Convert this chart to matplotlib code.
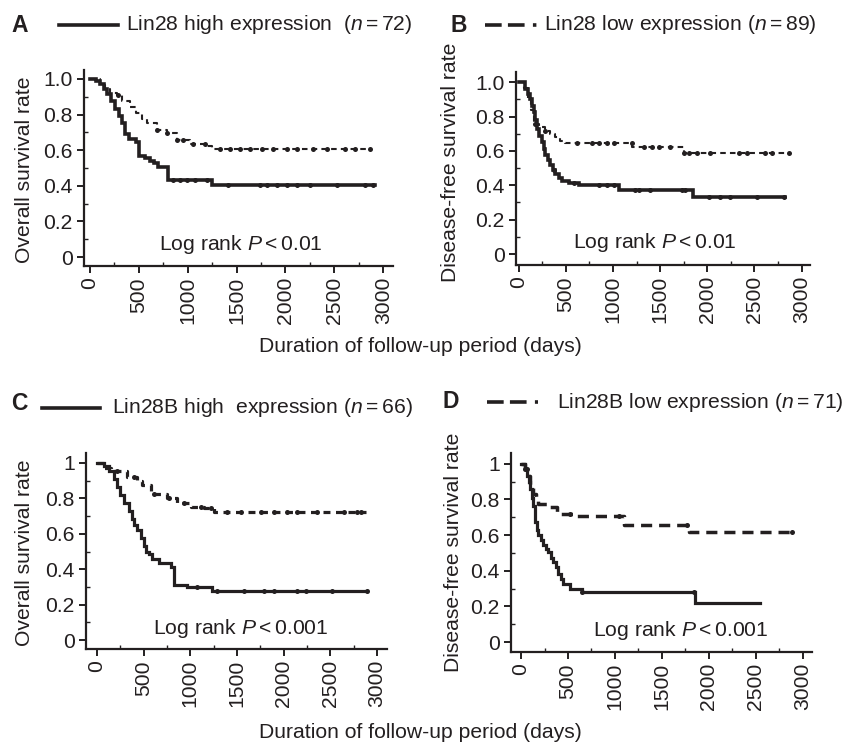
import numpy as np
import matplotlib
matplotlib.use("Agg")
import matplotlib.pyplot as plt
from matplotlib.lines import Line2D
from matplotlib.ticker import MultipleLocator

plt.rcParams['font.family'] = ['Liberation Sans', 'DejaVu Sans']
plt.rcParams['mathtext.fontset'] = 'custom'
plt.rcParams['mathtext.rm'] = 'Liberation Sans'
plt.rcParams['mathtext.it'] = 'Liberation Sans:italic'
plt.rcParams['lines.scale_dashes'] = False
INK = '#231f20'
FS = 15.2

# ---------------- data ----------------
# Panel A: Lin28, overall survival
a_high_t = [0, 60, 100, 140, 180, 220, 260, 300, 330, 360, 400, 470, 505, 560, 614, 660, 700, 802, 1245, 2917]
a_high_s = [1.0, 0.986, 0.972, 0.944, 0.917, 0.875, 0.833, 0.792, 0.75, 0.69, 0.66, 0.646, 0.569, 0.556, 0.542, 0.528, 0.507, 0.43, 0.405, 0.405]
a_high_c = [853, 921, 990, 1075, 1194, 1416, 1740, 1808, 1911, 2013, 2115, 2252, 2525, 2815, 2900]
a_low_t = [0, 100, 150, 205, 273, 330, 410, 470, 530, 580, 683, 785, 887, 1023, 1194, 1245, 2866]
a_low_s = [1.0, 0.966, 0.944, 0.92, 0.91, 0.876, 0.845, 0.81, 0.775, 0.75, 0.713, 0.695, 0.657, 0.635, 0.623, 0.605, 0.605]
a_low_c = [290, 683, 785, 887, 955, 1058, 1177, 1331, 1433, 1536, 1638, 1757, 1877, 2013, 2115, 2286, 2422, 2610, 2712, 2866]

# Panel B: Lin28, disease-free survival
b_high_t = [0, 70, 100, 123, 140, 159, 175, 194, 220, 247, 265, 283, 310, 336, 360, 389, 430, 459, 530, 636, 1060, 1848, 2827]
b_high_s = [1.0, 0.96, 0.93, 0.90, 0.86, 0.826, 0.78, 0.73, 0.69, 0.65, 0.61, 0.574, 0.545, 0.516, 0.49, 0.467, 0.445, 0.428, 0.413, 0.40, 0.374, 0.331, 0.331]
b_high_c = [371, 583, 848, 937, 1007, 1237, 1272, 1396, 1732, 1767, 2015, 2138, 2244, 2527, 2810]
b_low_t = [0, 60, 100, 130, 162, 220, 283, 330, 389, 440, 494, 1203, 1750, 2880]
b_low_s = [1.0, 0.966, 0.91, 0.84, 0.757, 0.74, 0.719, 0.70, 0.68, 0.66, 0.645, 0.625, 0.587, 0.587]
b_low_c = [176, 283, 618, 777, 848, 937, 1007, 1201, 1325, 1414, 1485, 1608, 1750, 1803, 1891, 2032, 2333, 2421, 2616, 2686, 2863]

# Panel C: Lin28B, overall survival
c_high_t = [0, 75, 129, 182, 218, 250, 289, 343, 370, 396, 430, 468, 500, 522, 560, 593, 665, 790, 825, 968, 1236, 2897]
c_high_s = [1.0, 0.985, 0.955, 0.909, 0.864, 0.818, 0.773, 0.727, 0.682, 0.652, 0.621, 0.576, 0.53, 0.50, 0.485, 0.46, 0.433, 0.414, 0.31, 0.298, 0.279, 0.279]
c_high_c = [1075, 1290, 1576, 1790, 1897, 2147, 2236, 2522, 2897]
c_low_t = [0, 75, 146, 325, 430, 486, 575, 754, 861, 1004, 1147, 1254, 2880]
c_low_s = [1.0, 0.97, 0.955, 0.923, 0.90, 0.876, 0.823, 0.804, 0.772, 0.753, 0.744, 0.721, 0.721]
c_low_c = [218, 397, 611, 772, 933, 1112, 1219, 1397, 1540, 1754, 1897, 2040, 2147, 2361, 2647, 2790, 2826]

# Panel D: Lin28B, disease-free survival
d_high_t = [0, 40, 61, 80, 96, 115, 131, 149, 165, 185, 210, 238, 265, 291, 320, 345, 370, 398, 425, 452, 523, 648, 1857, 2543]
d_high_s = [1.0, 0.97, 0.933, 0.90, 0.859, 0.81, 0.765, 0.672, 0.63, 0.598, 0.57, 0.542, 0.52, 0.505, 0.47, 0.449, 0.42, 0.384, 0.355, 0.328, 0.30, 0.281, 0.218, 0.218]
d_high_c = [60, 648, 1839]
d_low_t = [0, 40, 70, 96, 130, 160, 185, 274, 381, 558, 1100, 1786, 2889]
d_low_s = [1.0, 0.97, 0.93, 0.88, 0.83, 0.80, 0.775, 0.756, 0.719, 0.706, 0.659, 0.616, 0.616]
d_low_c = [40, 523, 1039, 1768, 2889]

y_ticks = [0, 0.2, 0.4, 0.6, 0.8, 1.0]
y_labels_ab = ['0', '0.2', '0.4', '0.6', '0.8', '1.0']
y_labels_cd = ['0', '0.2', '0.4', '0.6', '0.8', '1']
x_ticks = [0, 500, 1000, 1500, 2000, 2500, 3000]
x_labels = ['0', '500', '1000', '1500', '2000', '2500', '3000']

# ---------------- figure ----------------
W, H = 847, 744
fig = plt.figure(figsize=(W / 100, H / 100), dpi=100)


def fx(px):
    return px / W


def fy(py):
    return 1 - py / H


def make_axes(l, t, r, b):
    return fig.add_axes([fx(l), fy(b), fx(r - l), (b - t) / H])


def km(ax, t, s, cens, lw, dash=None, ms=3.6):
    t = np.asarray(t, float)
    s = np.asarray(s, float)
    kw = dict(color=INK, lw=lw, solid_joinstyle='miter')
    if dash is not None:
        kw['linestyle'] = (0, dash)
    ax.step(t, s, where='post', **kw)
    c = np.asarray(cens, float)
    idx = np.searchsorted(t, c, side='right') - 1
    ax.plot(c, s[idx], 'o', color=INK, ms=ms, mec='none')


def style(ax, xlim, ylim, ylabels):
    ax.set_xlim(*xlim)
    ax.set_ylim(*ylim)
    for sp in ['top', 'right']:
        ax.spines[sp].set_visible(False)
    for sp in ['left', 'bottom']:
        ax.spines[sp].set_linewidth(1.6)
        ax.spines[sp].set_color(INK)
    ax.set_yticks(y_ticks)
    ax.set_yticklabels(ylabels)
    ax.set_xticks(x_ticks)
    ax.set_xticklabels(x_labels, rotation=90)
    ax.xaxis.set_minor_locator(MultipleLocator(250))
    ax.yaxis.set_minor_locator(MultipleLocator(0.1))
    ax.tick_params(which='major', direction='out', length=5, width=1.4,
                   labelsize=FS, colors=INK, pad=3)
    ax.tick_params(which='minor', direction='in', length=3, width=1.0, colors=INK)
    ax.patch.set_alpha(0)


# Panel A
axA = make_axes(84, 70, 393, 266)
km(axA, a_low_t, a_low_s, a_low_c, 1.5, (4, 3))
km(axA, a_high_t, a_high_s, a_high_c, 2.6)
style(axA, (-60, 3100), (-0.05, 1.05), y_labels_ab)
axA.text(1545, 0.005, r'Log rank $P < 0.01$', ha='center', va='bottom', fontsize=FS, color=INK)

# Panel B
axB = make_axes(516, 72, 810, 265)
km(axB, b_low_t, b_low_s, b_low_c, 1.5, (4, 3))
km(axB, b_high_t, b_high_s, b_high_c, 2.6)
style(axB, (-28, 3089), (-0.064, 1.06), y_labels_ab)
axB.text(1445, 0.0, r'Log rank $P < 0.01$', ha='center', va='bottom', fontsize=FS, color=INK)

# Panel C
axC = make_axes(86, 453, 387, 649)
km(axC, c_low_t, c_low_s, c_low_c, 2.3, (5, 4))
km(axC, c_high_t, c_high_s, c_high_c, 2.3)
style(axC, (-118, 3107), (-0.05, 1.056), y_labels_cd)
axC.text(1543, 0.0, r'Log rank $P < 0.001$', ha='center', va='bottom', fontsize=FS, color=INK)

# Panel D
axD = make_axes(511, 453, 812, 652)
km(axD, d_low_t, d_low_s, d_low_c, 2.5, (8, 5))
km(axD, d_high_t, d_high_s, d_high_c, 2.3)
style(axD, (-107, 3100), (-0.056, 1.06), y_labels_cd)
axD.text(1697, 0.0, r'Log rank $P < 0.001$', ha='center', va='bottom', fontsize=FS, color=INK)

# y labels
fig.text(fx(24), fy(170), 'Overall survival rate', rotation=90, ha='center', va='center', fontsize=FS, color=INK)
fig.text(fx(451), fy(162), 'Disease-free survival rate', rotation=90, ha='center', va='center', fontsize=FS, color=INK)
fig.text(fx(24), fy(553), 'Overall survival rate', rotation=90, ha='center', va='center', fontsize=FS, color=INK)
fig.text(fx(453), fy(552), 'Disease-free survival rate', rotation=90, ha='center', va='center', fontsize=FS, color=INK)

# x labels
fig.text(fx(420), fy(346), 'Duration of follow-up period (days)', ha='center', va='center', fontsize=FS, color=INK)
fig.text(fx(420), fy(733), 'Duration of follow-up period (days)', ha='center', va='center', fontsize=FS, color=INK)


# panel letters and legend keys
def letter(px, py, s):
    fig.text(fx(px), fy(py), s, ha='left', va='center', fontsize=16.5, fontweight='bold', color=INK)


def key_solid(x0, x1, py):
    fig.add_artist(Line2D([fx(x0), fx(x1)], [fy(py), fy(py)], color=INK, lw=2.6, transform=fig.transFigure))


def key_dash(x0, x1, py):
    fig.add_artist(Line2D([fx(x0), fx(x1)], [fy(py), fy(py)], color=INK, lw=2.6,
                          linestyle=(0, (12, 4.5, 12, 6, 2.5, 20)), transform=fig.transFigure))


def key_text(px, py, s):
    fig.text(fx(px), fy(py), s, ha='left', va='center', fontsize=FS, color=INK)


letter(11, 25, 'A')
key_solid(59, 118, 25)
key_text(126, 25, r'Lin28 high expression  ($n = 72$)')

letter(450, 25, 'B')
key_dash(485, 537, 25)
key_text(544, 25, r'Lin28 low expression ($n = 89$)')

letter(11, 403, 'C')
key_solid(42, 100, 408)
key_text(112, 408, r'Lin28B high  expression ($n = 66$)')

letter(442, 402, 'D')
key_dash(487, 538, 402)
key_text(557, 402, r'Lin28B low expression ($n = 71$)')

fig.savefig('out.png', dpi=100)
